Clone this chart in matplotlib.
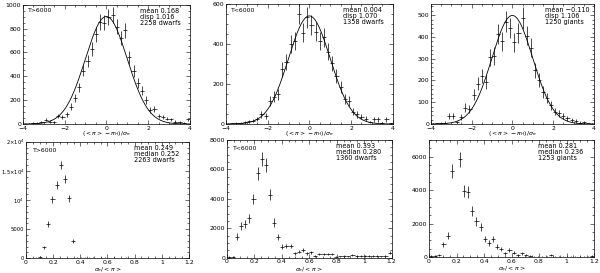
import numpy as np
import matplotlib
matplotlib.use("Agg")
import matplotlib.pyplot as plt
from matplotlib.ticker import MultipleLocator

# ---------------- data ----------------
# top row: (<pi>-pi_H)/sigma_pi histograms, bins of 0.2 from -4 to 4 (counts per unit)
top_centers = [-3.9, -3.7, -3.5, -3.3, -3.1, -2.9, -2.7, -2.5, -2.3, -2.1,
               -1.9, -1.7, -1.5, -1.3, -1.1, -0.9, -0.7, -0.5, -0.3, -0.1,
               0.1, 0.3, 0.5, 0.7, 0.9, 1.1, 1.3, 1.5, 1.7, 1.9,
               2.1, 2.3, 2.5, 2.7, 2.9, 3.1, 3.3, 3.5, 3.7, 3.9]
top_width = 0.2

hot_dwarfs_dev = [0, 2, 5, 8, 14, 35, 20, 14, 65, 56,
                  81, 145, 218, 306, 447, 528, 628, 751, 857, 849,
                  894, 913, 815, 723, 787, 559, 444, 346, 279, 201,
                  117, 123, 67, 56, 45, 39, 20, 17, 11, 39]
cool_dwarfs_dev = [2, 3, 3, 5, 8, 13, 17, 25, 48, 40,
                   115, 137, 150, 274, 311, 403, 415, 553, 458, 535,
                   495, 462, 415, 435, 363, 304, 241, 184, 124, 115,
                   62, 48, 37, 27, 10, 23, 23, 5, 23, 3]
giants_dev = [2, 3, 3, 6, 37, 37, 8, 32, 75, 68,
              135, 186, 220, 194, 306, 312, 412, 380, 470, 440,
              376, 417, 486, 406, 351, 246, 202, 148, 120, 85,
              57, 49, 35, 26, 17, 14, 6, 8, 3, 2]

# bottom row: sigma_pi/<pi> histograms, bins of 0.03 from 0 to 1.2 (counts per unit)
bot_centers = [0.015, 0.045, 0.075, 0.105, 0.135, 0.165, 0.195, 0.225, 0.255, 0.285,
               0.315, 0.345, 0.375, 0.405, 0.435, 0.465, 0.495, 0.525, 0.555, 0.585,
               0.615, 0.645, 0.675, 0.705, 0.735, 0.765, 0.795, 0.825, 0.855, 0.885,
               0.915, 0.945, 0.975, 1.005, 1.035, 1.065, 1.095, 1.125, 1.155, 1.185]
bot_width = 0.03

hot_dwarfs_rel = [40, 80, 120, 250, 1886, 5886, 10114, 12571, 16000, 13600,
                  10286, 2971, 120, 100, 110, 90, 100, 80, 90, 100,
                  80, 90, 70, 80, 90, 70, 80, 60, 70, 80,
                  60, 70, 60, 70, 60, 60, 70, 60, 60, 70]
cool_dwarfs_rel = [50, 50, 1432, 2181, 2276, 2685, 4000, 5750, 6700, 6300,
                   4270, 2386, 1390, 750, 797, 797, 300, 409, 525, 300,
                   368, 116, 252, 252, 252, 252, 68, 90, 110, 90,
                   184, 140, 110, 140, 110, 140, 110, 90, 110, 341]
giants_rel = [60, 60, 100, 760, 1285, 5160, np.nan, 5840, 3935, 3875,
              2730, 2130, 1770, 1065, 840, 1065, 620, 463, 223, 421,
              261, 120, 221, 120, 60, 30, 30, 30, 30, 120,
              20, 20, 20, 20, 20, 20, 20, 20, 20, 80]

top_counts = [2258, 1358, 1250]
top_labels = ["T>6000", "T<6000", ""]
top_stats = ["mean 0.168\ndisp 1.016\n2258 dwarfs",
             "mean 0.004\ndisp 1.070\n1358 dwarfs",
             "mean \u22120.110\ndisp 1.106\n1250 giants"]
bot_labels = ["T>6000", "T<6000", ""]
bot_stats = ["mean 0.249\nmedian 0.252\n2263 dwarfs",
             "mean 0.393\nmedian 0.280\n1360 dwarfs",
             "mean 0.281\nmedian 0.236\n1253 giants"]

# ---------------- figure ----------------
fs = 4.4
plt.rcParams['font.family'] = ['DejaVu Sans']
plt.rcParams['mathtext.fontset'] = 'dejavusans'
fig = plt.figure(figsize=(6.0, 2.73), dpi=100)

top_pos = [[0.0378, 0.5458, 0.2788, 0.4370],
           [0.3767, 0.5458, 0.2778, 0.4385],
           [0.7178, 0.5458, 0.2722, 0.4385]]
bot_pos = [[0.0433, 0.0538, 0.2717, 0.4270],
           [0.3778, 0.0560, 0.2750, 0.4310],
           [0.7150, 0.0586, 0.2750, 0.4286]]

top_series = [hot_dwarfs_dev, cool_dwarfs_dev, giants_dev]
bot_series = [hot_dwarfs_rel, cool_dwarfs_rel, giants_rel]
top_ylim = [1000, 600, 550]
top_ymaj = [200, 200, 100]
top_ymin = [50, 50, 20]
bot_ylim = [20000, 8000, 7000]
bot_ymaj = [5000, 2000, 2000]
bot_ymin = [1000, 500, 500]


def style(ax):
    ax.tick_params(which='both', direction='in', top=True, right=True,
                   labelsize=fs, width=0.4, pad=1.2)
    ax.tick_params(which='major', length=3)
    ax.tick_params(which='minor', length=1.5)
    for s in ax.spines.values():
        s.set_linewidth(0.5)


for k in range(3):
    ax = fig.add_axes(top_pos[k])
    x = np.array(top_centers)
    y = np.array(top_series[k], dtype=float)
    yerr = np.sqrt(y * top_width) / top_width
    ax.errorbar(x, y, xerr=top_width / 2, yerr=yerr, fmt='none',
                ecolor='black', elinewidth=0.5, capsize=0)
    # reference unit gaussian scaled to number of stars
    xc = np.linspace(-4, 4, 400)
    ax.plot(xc, top_counts[k] / np.sqrt(2 * np.pi) * np.exp(-xc ** 2 / 2),
            color='black', lw=0.6)
    ax.set_xlim(-4, 4)
    ax.set_ylim(0, top_ylim[k])
    ax.xaxis.set_major_locator(MultipleLocator(2))
    ax.xaxis.set_minor_locator(MultipleLocator(0.5))
    ax.yaxis.set_major_locator(MultipleLocator(top_ymaj[k]))
    ax.yaxis.set_minor_locator(MultipleLocator(top_ymin[k]))
    style(ax)
    ax.set_xlabel(r'$({<}\pi{>}-\pi_{\rm H})/\sigma_\pi$', fontsize=fs)
    ax.xaxis.set_label_coords(0.5, -0.045)
    if top_labels[k]:
        ax.text(0.03, 0.97, top_labels[k], transform=ax.transAxes,
                fontsize=fs, va='top', ha='left')
    ax.text(0.70, 0.975, top_stats[k], transform=ax.transAxes,
            fontsize=fs + 0.3, va='top', ha='left', linespacing=1.0)

for k in range(3):
    ax = fig.add_axes(bot_pos[k])
    x = np.array(bot_centers)
    y = np.array(bot_series[k], dtype=float)
    yerr = np.sqrt(y * bot_width) / bot_width
    ax.errorbar(x, y, xerr=bot_width / 2, yerr=yerr, fmt='none',
                ecolor='black', elinewidth=0.5, capsize=0)
    ax.set_xlim(0, 1.2)
    ax.set_ylim(0, bot_ylim[k])
    ax.xaxis.set_major_locator(MultipleLocator(0.2))
    ax.xaxis.set_minor_locator(MultipleLocator(0.05))
    ax.yaxis.set_major_locator(MultipleLocator(bot_ymaj[k]))
    ax.yaxis.set_minor_locator(MultipleLocator(bot_ymin[k]))
    style(ax)
    ax.set_xticks([0, 0.2, 0.4, 0.6, 0.8, 1.0, 1.2])
    ax.set_xticklabels(['0', '0.2', '0.4', '0.6', '0.8', '1', '1.2'])
    if k == 0:
        ax.set_yticks([0, 5000, 10000, 15000, 20000])
        ax.set_yticklabels(['0', '5000', r'$10^4$', r'$1.5{\times}10^4$',
                            r'$2{\times}10^4$'])
        for lab in ax.get_yticklabels():
            lab.set_fontsize(3.8)
    ax.set_xlabel(r'$\sigma_\pi/{<}\pi{>}$', fontsize=fs)
    ax.xaxis.set_label_coords(0.5, -0.062)
    if bot_labels[k]:
        ax.text(0.04, 0.95, bot_labels[k], transform=ax.transAxes,
                fontsize=fs, va='top', ha='left')
    ax.text(0.66, 0.975, bot_stats[k], transform=ax.transAxes,
            fontsize=fs + 0.3, va='top', ha='left', linespacing=1.0)

fig.savefig('out.png', dpi=100)
